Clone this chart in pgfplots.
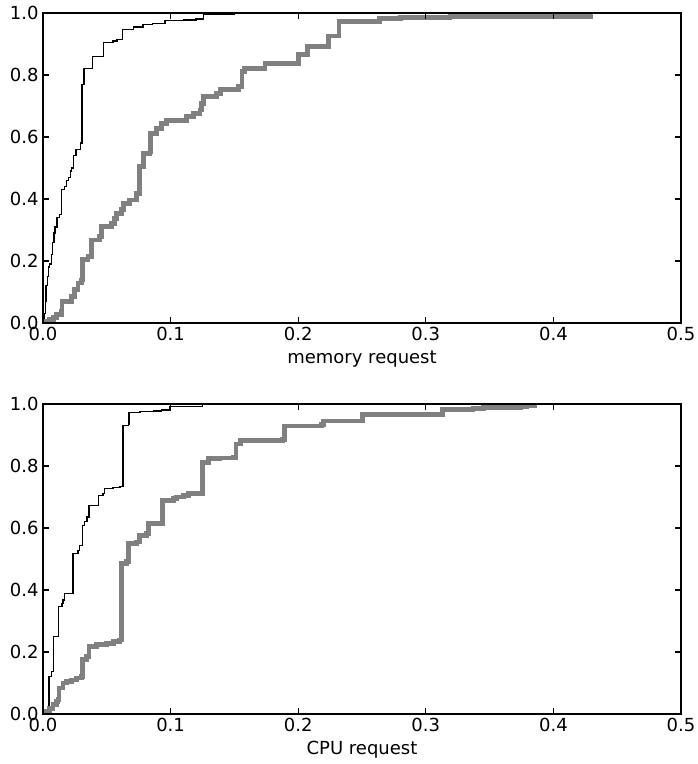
\documentclass[border=0pt]{standalone}
\usepackage{fontspec}
\setmainfont{DejaVu Sans}
\usepackage{pgfplots}
\pgfplotsset{compat=1.18}

\definecolor{mplgray}{RGB}{128,128,128}

\pgfplotsset{cdfax/.style={
    scale only axis, width=319pt, height=155pt,
    xmin=0, xmax=0.5, ymin=0, ymax=1,
    xtick={0,0.1,0.2,0.3,0.4,0.5},
    ytick={0,0.2,0.4,0.6,0.8,1.0},
    tick align=inside, tick pos=both, major tick length=3pt,
    axis line style={line width=0.8pt},
    every tick/.style={black, line width=0.6pt},
    ticklabel style={font=\fontsize{9}{10}\selectfont, inner sep=2pt},
    /pgf/number format/fixed,
    /pgf/number format/fixed zerofill,
    /pgf/number format/precision=1,
    /pgf/number format/assume math mode=true,
    xlabel style={at={(axis description cs:0.5,0)}, anchor=north, yshift=-13.5pt,
        inner sep=0pt, font=\fontsize{9}{10}\selectfont},
    axis on top,
    const plot,
}}

\begin{document}
\begin{tikzpicture}
\path[use as bounding box] (-21.5pt,-25pt) rectangle (327pt,357pt);

% memory request
\begin{axis}[cdfax, at={(0,195.5pt)}, xlabel={memory request}]
\addplot[black, line width=0.7pt] coordinates {
    (0,0) (0.001,0.03) (0.0018,0.07) (0.0025,0.12) (0.0034,0.15) (0.0045,0.18)
    (0.0052,0.19) (0.0065,0.22) (0.0073,0.26) (0.0085,0.29) (0.0095,0.31)
    (0.011,0.34) (0.013,0.35) (0.0147,0.43) (0.017,0.44) (0.0183,0.46)
    (0.020,0.47) (0.0215,0.49) (0.0225,0.50) (0.024,0.54) (0.026,0.56)
    (0.0295,0.58) (0.0306,0.77) (0.032,0.82) (0.0387,0.86) (0.0476,0.905)
    (0.055,0.91) (0.058,0.915) (0.0623,0.946) (0.0707,0.955) (0.0785,0.962)
    (0.086,0.967) (0.0955,0.975) (0.110,0.977) (0.120,0.98) (0.1257,0.995)
    (0.15,0.998) (0.2,1.0) (0.5,1.0)
};
\addplot[mplgray, line width=2.4pt] coordinates {
    (0,0) (0.002,0.004) (0.0052,0.011) (0.008,0.019) (0.0105,0.027) (0.0144,0.038)
    (0.0149,0.07) (0.0223,0.086) (0.0249,0.107) (0.0275,0.129) (0.030,0.139)
    (0.0309,0.204) (0.0353,0.215) (0.038,0.268) (0.0445,0.279) (0.0458,0.311)
    (0.0537,0.322) (0.0563,0.338) (0.0576,0.354) (0.0615,0.365) (0.0628,0.386)
    (0.068,0.397) (0.0733,0.418) (0.0759,0.504) (0.0785,0.547) (0.0838,0.553)
    (0.0843,0.612) (0.089,0.628) (0.093,0.644) (0.0969,0.652) (0.107,0.654)
    (0.1126,0.665) (0.118,0.676) (0.123,0.687) (0.1243,0.708) (0.1257,0.73)
    (0.136,0.741) (0.139,0.752) (0.153,0.762) (0.156,0.81) (0.158,0.821)
    (0.174,0.838) (0.200,0.865) (0.207,0.892) (0.224,0.926) (0.232,0.972)
    (0.264,0.983) (0.28,0.986) (0.319,0.988) (0.429,1.0)
};
\end{axis}

% CPU request
\begin{axis}[cdfax, at={(0,0)}, xlabel={CPU request}]
\addplot[black, line width=0.7pt] coordinates {
    (0,0) (0.0047,0.121) (0.0065,0.137) (0.0084,0.25) (0.0123,0.346)
    (0.0149,0.357) (0.0157,0.368) (0.017,0.389) (0.0236,0.518) (0.0275,0.528)
    (0.0288,0.544) (0.0309,0.609) (0.0327,0.62) (0.0346,0.636) (0.0361,0.673)
    (0.0437,0.705) (0.0471,0.711) (0.0484,0.727) (0.055,0.73) (0.0602,0.734)
    (0.0628,0.93) (0.0668,0.936) (0.0675,0.973) (0.0759,0.975) (0.0864,0.977)
    (0.093,0.981) (0.0995,0.992) (0.125,0.999) (0.19,1.0) (0.5,1.0)
};
\addplot[mplgray, line width=2.4pt] coordinates {
    (0,0) (0.002,0.007) (0.0052,0.019) (0.0079,0.03) (0.0105,0.041) (0.0118,0.046)
    (0.0126,0.084) (0.0157,0.10) (0.0183,0.105) (0.0223,0.11) (0.0262,0.116)
    (0.0301,0.121) (0.0309,0.175) (0.034,0.185) (0.0361,0.218) (0.0419,0.223)
    (0.0497,0.228) (0.055,0.234) (0.0602,0.239) (0.0615,0.486) (0.0654,0.491)
    (0.0668,0.55) (0.0733,0.555) (0.0754,0.577) (0.0812,0.582) (0.0825,0.614)
    (0.0937,0.689) (0.102,0.695) (0.1047,0.70) (0.11,0.705) (0.1139,0.711)
    (0.1251,0.812) (0.1296,0.823) (0.1387,0.826) (0.149,0.828) (0.1513,0.871)
    (0.1545,0.882) (0.188,0.886) (0.189,0.929) (0.218,0.935) (0.220,0.945)
    (0.2505,0.967) (0.313,0.983) (0.337,0.986) (0.345,0.988) (0.374,0.99)
    (0.379,0.995) (0.385,1.0)
};
\end{axis}
\end{tikzpicture}
\end{document}
